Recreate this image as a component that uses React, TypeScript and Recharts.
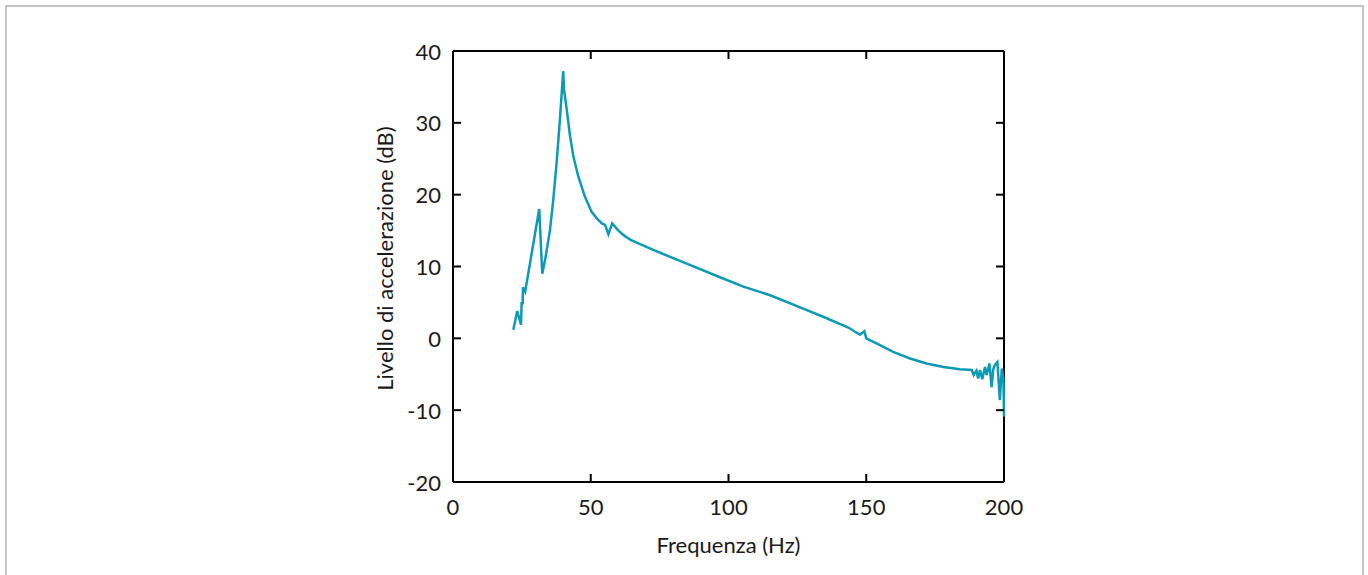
import { LineChart, Line, XAxis, YAxis, ReferenceLine } from "recharts";

const FREQ = [
  21.9, 23.3, 24.7, 24.9, 25.3, 25.4, 26.2, 31.3, 32.4, 33.6, 35.2, 36.4, 37.6, 38.8, 40.0, 40.3, 41.3, 42.5,
  43.7, 45.5, 47.9, 50.3, 52.2, 54.0, 55.2, 56.4, 57.8, 59.8, 61.8, 64.5, 67.9, 72.7, 84.8, 96.9, 105.4, 115.1,
  126.0, 135.0, 143.5, 147.7, 149.3, 150.0, 155.0, 159.8, 165.9, 171.9, 178.0, 184.0, 188.3, 189.0, 190.0,
  190.6, 191.3, 192.1, 193.1, 193.7, 194.7, 195.5, 196.1, 196.7, 197.6, 198.5, 199.2, 199.8, 200.0,
];

const LEVEL = [
  1.2, 3.8, 1.9, 4.9, 4.9, 7.1, 6.5, 18.0, 9.0, 11.3, 15.1, 19.3, 24.4, 30.4, 37.2, 34.6, 31.8, 28.1,
  25.3, 22.5, 19.7, 17.6, 16.7, 16.0, 15.8, 14.5, 16.0, 15.1, 14.4, 13.7, 13.1, 12.3, 10.4, 8.5, 7.2, 6.0,
  4.3, 2.9, 1.5, 0.5, 1.0, 0.0, -0.95, -1.9, -2.8, -3.5, -4.0, -4.3, -4.4, -5.1, -4.5,
  -5.6, -4.4, -5.7, -4.0, -5.1, -3.5, -6.8, -4.3, -3.7, -3.3, -8.6, -4.2, -5.6, -10.9,
];

const X_TICKS = [0, 50, 100, 150, 200];
const Y_TICKS = [-20, -10, 0, 10, 20, 30, 40];

const FONT = "Lato, 'Noto Sans', sans-serif";
const FS = 22;
const TICK = 8;

const data = FREQ.map((f, i) => ({ f, v: LEVEL[i] }));

const BottomTick = ({ x, y, payload }: any) => (
  <g>
    <line x1={x} x2={x} y1={y} y2={y - TICK} stroke="#000" strokeWidth={2} />
    <text x={x} y={y + 24} textAnchor="middle" dominantBaseline="central" fontFamily={FONT} fontSize={FS} fill="#1a1a1a">
      {payload.value}
    </text>
  </g>
);

const TopTick = ({ x, y }: any) => <line x1={x} x2={x} y1={y} y2={y + TICK} stroke="#000" strokeWidth={2} />;

const LeftTick = ({ x, y, payload }: any) => (
  <g>
    <line x1={x} x2={x + TICK} y1={y} y2={y} stroke="#000" strokeWidth={2} />
    <text x={x - 12} y={y} textAnchor="end" dominantBaseline="central" fontFamily={FONT} fontSize={FS} fill="#1a1a1a">
      {payload.value}
    </text>
  </g>
);

const RightTick = ({ x, y }: any) => <line x1={x} x2={x - TICK} y1={y} y2={y} stroke="#000" strokeWidth={2} />;

const axisLine = { stroke: "#000", strokeWidth: 2 };

export default function App() {
  return (
    <div style={{ position: "absolute", left: 0, top: 0, width: 1368, height: 575, background: "#fff", overflow: "hidden" }}>
      <div
        style={{
          position: "absolute",
          left: 5,
          top: 5,
          width: 1359,
          height: 600,
          borderTop: "2px solid #c4c4c4",
          borderLeft: "2px solid #c4c4c4",
          borderRight: "2px solid #c4c4c4",
          boxSizing: "border-box",
        }}
      />
      <div style={{ position: "absolute", left: 0, top: 0 }}>
        <LineChart width={1368} height={575} data={data} margin={{ top: 50, right: 363, left: 0, bottom: 0 }}>
          <XAxis
            dataKey="f"
            type="number"
            domain={[0, 200]}
            ticks={X_TICKS}
            height={93}
            tickSize={0}
            tickMargin={0}
            tickLine={false}
            axisLine={axisLine}
            tick={<BottomTick />}
            interval={0}
            label={{
              content: ({ viewBox }: any) => (
                <text
                  x={viewBox.x + viewBox.width / 2}
                  y={viewBox.y + 62}
                  textAnchor="middle"
                  dominantBaseline="central"
                  fontFamily={FONT}
                  fontSize={FS}
                  fill="#1a1a1a"
                >
                  Frequenza (Hz)
                </text>
              ),
            }}
          />
          <XAxis
            xAxisId="top"
            orientation="top"
            dataKey="f"
            type="number"
            domain={[0, 200]}
            ticks={X_TICKS}
            height={1}
            tickSize={0}
            tickMargin={0}
            tickLine={false}
            axisLine={axisLine}
            tick={<TopTick />}
            interval={0}
          />
          <YAxis
            type="number"
            domain={[-20, 40]}
            ticks={Y_TICKS}
            width={453}
            tickSize={0}
            tickMargin={0}
            tickLine={false}
            axisLine={axisLine}
            tick={<LeftTick />}
            interval={0}
            label={{
              content: ({ viewBox }: any) => {
                const cx = viewBox.x + viewBox.width - 69;
                const cy = viewBox.y + viewBox.height / 2 - 8;
                return (
                  <text
                    x={cx}
                    y={cy}
                    transform={`rotate(-90 ${cx} ${cy})`}
                    textAnchor="middle"
                    dominantBaseline="central"
                    fontFamily={FONT}
                    fontSize={FS}
                    fill="#1a1a1a"
                  >
                    Livello di accelerazione (dB)
                  </text>
                );
              },
            }}
          />
          <YAxis
            yAxisId="right"
            orientation="right"
            type="number"
            domain={[-20, 40]}
            ticks={Y_TICKS}
            width={1}
            tickSize={0}
            tickMargin={0}
            tickLine={false}
            axisLine={false}
            tick={<RightTick />}
            interval={0}
          />
          <ReferenceLine x={200} stroke="#000" strokeWidth={2} ifOverflow="visible" />
          <Line
            xAxisId="top"
            yAxisId="right"
            dataKey="v"
            stroke="none"
            dot={false}
            activeDot={false}
            isAnimationActive={false}
          />
          <Line
            dataKey="v"
            type="linear"
            stroke="#0c9bb4"
            strokeWidth={2.5}
            dot={false}
            isAnimationActive={false}
          />
        </LineChart>
      </div>
    </div>
  );
}
